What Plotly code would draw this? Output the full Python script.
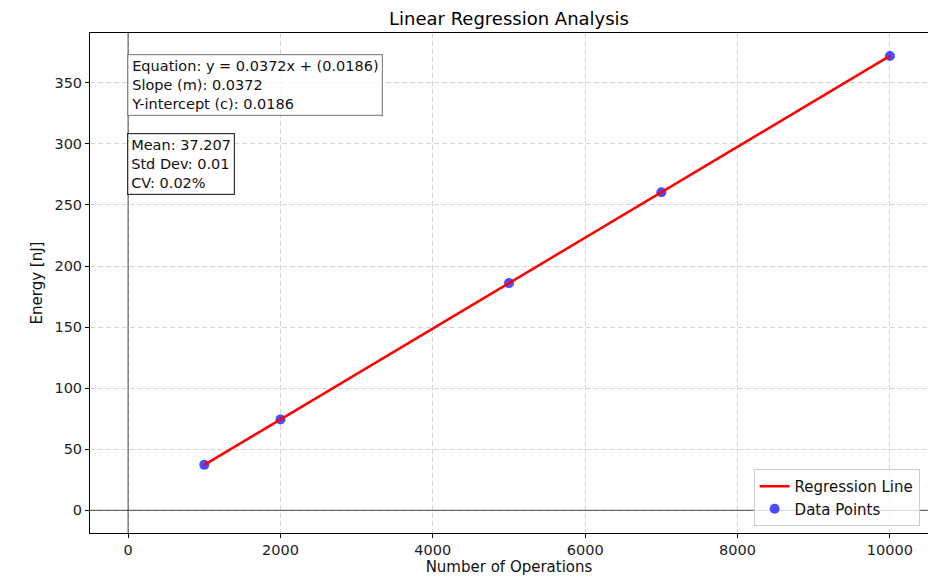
import plotly.graph_objects as go

# Measured energy per run size
operations = [1000, 2000, 5000, 7000, 10000]
energy_nj = [37.21, 74.41, 186.03, 260.43, 372.02]

# Fit results and per-operation statistics shown in the text boxes
slope = 0.0372
intercept = 0.0186
mean_val = 37.207
std_val = 0.01
cv_val = 0.02

x_ticks = [0, 2000, 4000, 6000, 8000, 10000]
y_ticks = [0, 50, 100, 150, 200, 250, 300, 350]

x_fit = [min(operations), max(operations)]
y_fit = [slope * x + intercept for x in x_fit]

FONT = "DejaVu Sans"

fig = go.Figure()
fig.add_trace(go.Scatter(
    x=operations, y=energy_nj, mode="markers", name="Data Points",
    marker=dict(color="rgba(0,0,255,0.7)", size=10, line=dict(width=0)),
    legendrank=2,
))
fig.add_trace(go.Scatter(
    x=x_fit, y=y_fit, mode="lines", name="Regression Line",
    line=dict(color="red", width=2.5),
    legendrank=1,
))

# Reference lines through the origin
fig.add_hline(y=0, line=dict(color="rgba(0,0,0,0.7)", width=1), layer="above")
fig.add_vline(x=0, line=dict(color="rgba(0,0,0,0.7)", width=1), layer="above")

eq_text = (f"Equation: y = {slope:.4f}x + ({intercept:.4f})<br>"
           f"Slope (m): {slope:.4f}<br>"
           f"Y-intercept (c): {intercept:.4f}")
stats_text = (f"Mean: {mean_val:.3f}<br>"
              f"Std Dev: {std_val:.2f}<br>"
              f"CV: {cv_val:.2f}%")

fig.add_annotation(
    xref="paper", yref="paper", x=0.044, y=0.958, xanchor="left", yanchor="top",
    text=eq_text, showarrow=False, align="left",
    font=dict(family=FONT, size=14.5, color="#111"),
    bgcolor="rgba(255,255,255,0.8)", bordercolor="#888888", borderwidth=1.2, borderpad=3,
)
fig.add_annotation(
    xref="paper", yref="paper", x=0.044, y=0.8, xanchor="left", yanchor="top",
    text=stats_text, showarrow=False, align="left",
    font=dict(family=FONT, size=14.5, color="#111"),
    bgcolor="rgba(255,255,255,0.8)", bordercolor="#333333", borderwidth=1.2, borderpad=3,
)

axis_common = dict(
    showline=True, linecolor="black", linewidth=1, mirror=True,
    ticks="outside", ticklen=4, tickcolor="black",
    showgrid=True, gridcolor="#d3d3d3", griddash="5px,3px", gridwidth=1,
    zeroline=False, tickfont=dict(family=FONT, size=14.5, color="#222"),
)

fig.update_layout(
    width=928, height=579,
    margin=dict(l=90, r=0, t=33, b=46),
    paper_bgcolor="white", plot_bgcolor="white",
    title=dict(text="Linear Regression Analysis", xref="paper", x=0.5, xanchor="center",
               y=0.967, yanchor="middle",
               font=dict(family=FONT, size=18, color="black")),
    xaxis=dict(range=[-500, 10500], tickvals=x_ticks,
               ticktext=[str(v) for v in x_ticks],
               title=dict(text="Number of Operations", standoff=3,
                          font=dict(family=FONT, size=15, color="#111")),
               **axis_common),
    yaxis=dict(range=[-18.6, 390.8], tickvals=y_ticks,
               ticktext=[str(v) for v in y_ticks],
               title=dict(text="Energy [nJ]", standoff=8,
                          font=dict(family=FONT, size=15, color="#111")),
               **axis_common),
    legend=dict(x=0.99, y=0.014, xanchor="right", yanchor="bottom",
                bgcolor="rgba(255,255,255,0.8)", bordercolor="#cccccc", borderwidth=1,
                font=dict(family=FONT, size=15, color="#111"),
                traceorder="normal"),
    showlegend=True,
)

fig.write_html("out.html")
